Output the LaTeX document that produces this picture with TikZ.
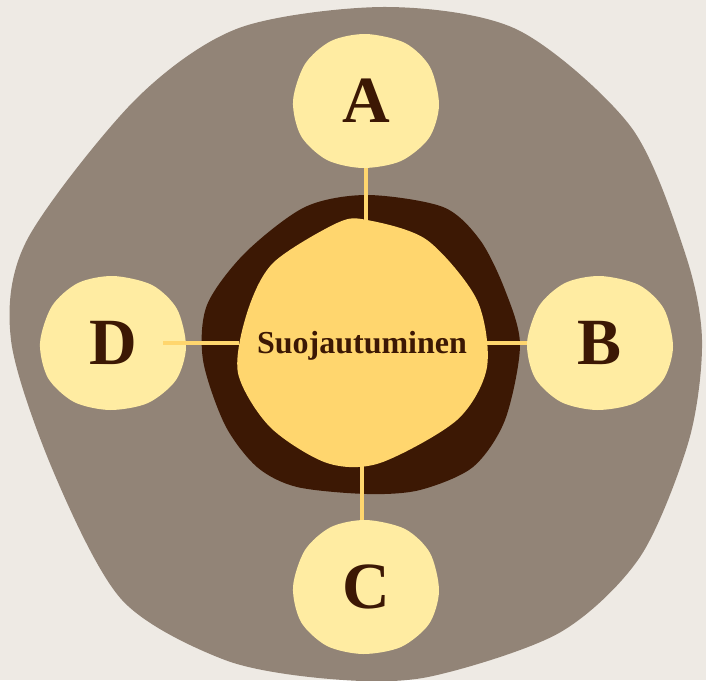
\documentclass[tikz,border=0pt]{standalone}
\usepackage{fontspec}
\setmainfont{Liberation Serif}
\usetikzlibrary{shapes.geometric}
\definecolor{paper}{HTML}{EEEAE4}
\definecolor{stone}{HTML}{928477}
\definecolor{bark}{HTML}{3C1804}
\definecolor{honey}{HTML}{FFD66E}
\definecolor{cream}{HTML}{FFECA2}
\begin{document}
\begin{tikzpicture}
[x=1pt,y=-1pt,%
  outerBlob/.style={fill=stone},%
  ringBlob/.style={fill=bark},%
  coreBlob/.style={fill=honey},%
  petalBlob/.style={fill=cream},%
  petalNode/.style={shape=ellipse,minimum width=146pt,minimum height=134pt,inner sep=0pt,%
    text=bark,font=\fontsize{66}{66}\selectfont\bfseries},%
  coreNode/.style={shape=rectangle,minimum width=246pt,minimum height=244pt,inner sep=0pt,%
    text depth=0pt,text=bark,font=\fontsize{32}{32}\selectfont\bfseries},%
  goldLine/.style={draw=honey,line width=3.5pt}]
%% paper and outer blob
\fill[paper] (0,0) rectangle (706,680);
\useasboundingbox (0,0) rectangle (706,680);
\fill[outerBlob] plot[smooth cycle] coordinates {(387,7) (518,30) (631,127) (685,253)
  (702,340) (689,440) (640,557) (559,633) (428,677) (330,679) (225,660) (122,600)
  (54,473) (11,340) (27,240) (135,100) (239,28)};
%% dark ring and core
\fill[ringBlob] plot[smooth cycle] coordinates {(367,195) (443,207) (480,240) (505,290)
  (520,345) (505,420) (473,467) (420,490) (367,494) (297,487) (257,467) (225,425)
  (203,360) (207,305) (245,253) (305,207)};
\fill[coreBlob] plot[smooth cycle] coordinates {(367,220) (427,240) (477,300) (487,367)
  (457,420) (380,463) (327,463) (270,427) (238,373) (247,313) (273,263) (337,223)};
\node (core) at (362,342) [coreNode] {Suojautuminen};
%% petals
\foreach \name/\x/\y in {A/366/101, B/600/343, C/366/587, D/113/343}
{
  \fill[petalBlob,shift={(\x,\y)}] plot[smooth cycle] coordinates {(0,-67) (39,-58)
    (64,-34) (73,4) (63,37) (35,60) (-3,67) (-39,59) (-65,35) (-73,0) (-61,-37) (-35,-60)};
  \node (\name) at (\x,\y) [petalNode] {\name};
}
%% connectors
\draw[goldLine] (A.south) -- (A.south |- core.north);
\draw[goldLine] (core.east |- B.west) -- (B.west);
\draw[goldLine] (core.south) -- (core.south |- C.north);
\draw[goldLine] ([xshift=-23pt]D.east) -- (D.east -| core.west);
\end{tikzpicture}
\end{document}
